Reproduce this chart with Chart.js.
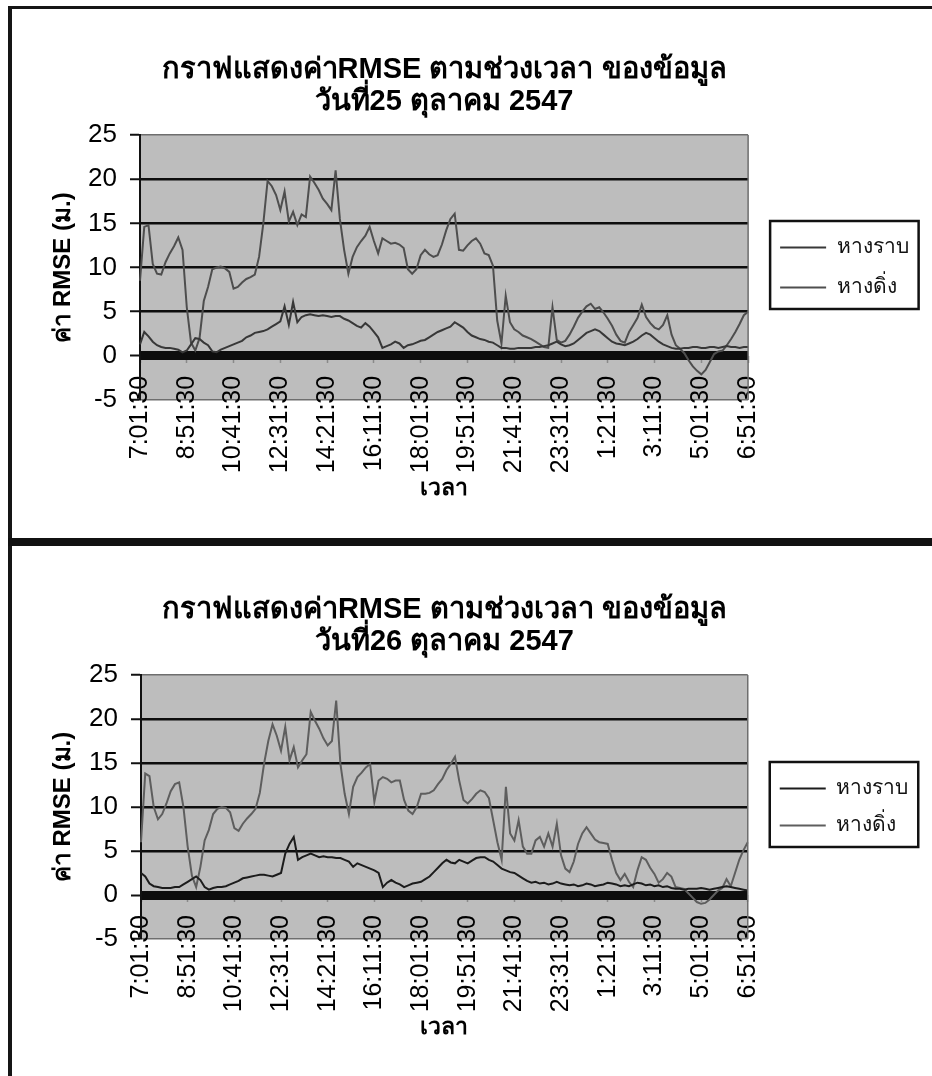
<!DOCTYPE html>
<html lang="th">
<head>
<meta charset="utf-8">
<title>กราฟแสดงค่า RMSE ตามช่วงเวลา</title>
<script src="https://cdn.jsdelivr.net/npm/chart.js@4.4.1/dist/chart.umd.min.js"></script>
<style>
  html, body { margin: 0; padding: 0; background: #ffffff; }
  #page { position: relative; width: 932px; height: 1076px; overflow: hidden; background: #ffffff; }
  .frame { position: absolute; box-sizing: border-box; border-style: solid; border-color: #151515; }
  #frameTop { left: 8px; top: 6px; width: 924px; height: 532px; border-width: 3px 0 0 4px; }
  #divider { position: absolute; left: 8px; top: 538px; width: 924px; height: 8px; background: #111111; }
  #frameBottom { left: 8px; top: 546px; width: 924px; height: 530px; border-width: 0 0 0 4px; }
  canvas { position: absolute; left: 0; }
  #chart25 { top: 0; }
  #chart26 { top: 546px; }
</style>
</head>
<body>
<div id="page">
  <div id="frameTop" class="frame"></div>
  <div id="divider"></div>
  <div id="frameBottom" class="frame"></div>
  <canvas id="chart25" width="932" height="537"></canvas>
  <canvas id="chart26" width="932" height="530"></canvas>
</div>
<script>
// ---- time axis: one sample every 10 minutes, from 7:01:30 to 6:51:30 of the next day ----
const START_MINUTE = 7 * 60 + 1;
const STEP_MINUTES = 10;
const SAMPLE_COUNT = 144;
const LABEL_EVERY = 11;          // a label every 110 minutes
const timeLabels = [];
for (let i = 0; i < SAMPLE_COUNT; i++) {
  const t = (START_MINUTE + i * STEP_MINUTES) % 1440;
  timeLabels.push(Math.floor(t / 60) + ':' + String(t % 60).padStart(2, '0') + ':30');
}

// ---- value axis ----
const yTickValues = [-5, 0, 5, 10, 15, 20, 25];

// ---- text ----
const seriesNames = ['หางราบ', 'หางดิ่ง'];
const titleLine = 'กราฟแสดงค่าRMSE ตามช่วงเวลา ของข้อมูล';
const dateLine25 = 'วันที่25 ตุลาคม 2547';
const dateLine26 = 'วันที่26 ตุลาคม 2547';
const yAxisTitle = 'ค่า RMSE (ม.)';
const xAxisTitle = 'เวลา';

// ---- RMSE (m), 25 October 2547 ----
const rmseFlat25 = [
  1.3, 2.7, 2.2, 1.6, 1.2, 1.0, 0.9, 0.9, 0.8, 0.7, 0.4, 0.6,
  1.3, 2.0, 1.9, 1.5, 1.2, 0.5, 0.4, 0.7, 0.9, 1.1, 1.3, 1.5,
  1.7, 2.1, 2.3, 2.6, 2.7, 2.8, 3.0, 3.3, 3.6, 3.9, 5.6, 3.5,
  6.1, 3.8, 4.4, 4.6, 4.7, 4.6, 4.5, 4.6, 4.5, 4.4, 4.5, 4.5,
  4.2, 4.0, 3.7, 3.4, 3.2, 3.7, 3.3, 2.7, 2.1, 0.9, 1.1, 1.3,
  1.6, 1.4, 0.9, 1.2, 1.3, 1.5, 1.7, 1.8, 2.1, 2.4, 2.7, 2.9,
  3.1, 3.3, 3.8, 3.5, 3.2, 2.7, 2.3, 2.1, 1.9, 1.8, 1.6, 1.5,
  1.2, 0.9, 0.9, 0.8, 0.8, 0.9, 0.9, 0.9, 0.9, 1.0, 1.0, 1.1,
  1.2, 1.4, 1.6, 1.3, 1.1, 1.2, 1.4, 1.8, 2.2, 2.6, 2.8, 3.0,
  2.8, 2.4, 2.0, 1.6, 1.4, 1.3, 1.2, 1.4, 1.6, 1.9, 2.3, 2.6,
  2.4, 2.0, 1.6, 1.3, 1.1, 0.9, 0.8, 0.8, 0.9, 0.9, 1.0, 1.0,
  0.9, 0.9, 1.0, 1.0, 0.9, 1.0, 1.1, 1.0, 1.0, 0.9, 1.0, 1.0
];
const rmseVert25 = [
  8.5, 14.6, 14.8, 10.4, 9.3, 9.2, 10.6, 11.6, 12.4, 13.4, 12.0, 5.5,
  1.5, 0.6, 2.0, 6.2, 7.8, 9.8, 10.0, 10.1, 9.9, 9.5, 7.6, 7.8,
  8.3, 8.7, 8.9, 9.2, 11.2, 15.0, 19.8, 19.2, 18.2, 16.5, 18.6, 15.2,
  16.3, 14.8, 16.0, 15.7, 20.3, 19.6, 18.8, 17.8, 17.2, 16.5, 21.0, 15.5,
  12.0, 9.3, 11.2, 12.3, 13.0, 13.6, 14.6, 13.0, 11.6, 13.3, 13.0, 12.7,
  12.8, 12.6, 12.2, 9.8, 9.3, 9.8, 11.4, 12.0, 11.5, 11.2, 11.4, 12.6,
  14.2, 15.5, 16.1, 12.0, 11.9, 12.5, 13.0, 13.3, 12.7, 11.6, 11.4, 10.2,
  4.0, 1.4, 6.8, 3.8, 3.0, 2.7, 2.3, 2.1, 1.9, 1.6, 1.3, 1.0,
  0.9, 5.5, 1.8, 1.5, 1.7, 2.4, 3.3, 4.3, 5.0, 5.6, 5.9, 5.3,
  5.5, 4.9, 4.2, 3.4, 2.4, 1.7, 1.5, 2.7, 3.5, 4.3, 5.8, 4.4,
  3.7, 3.2, 3.0, 3.5, 4.6, 2.4, 1.2, 0.8, 0.3, -0.5, -1.2, -1.7,
  -2.1, -1.6, -0.7, 0.2, 0.5, 0.6, 1.2, 1.9, 2.7, 3.6, 4.6, 5.0
];

// ---- RMSE (m), 26 October 2547 ----
const rmseFlat26 = [
  2.5, 2.1, 1.3, 1.0, 0.9, 0.8, 0.8, 0.8, 0.9, 0.9, 1.2, 1.5,
  1.8, 2.1, 1.7, 0.9, 0.6, 0.8, 0.9, 0.9, 1.0, 1.2, 1.4, 1.6,
  1.9, 2.0, 2.1, 2.2, 2.3, 2.3, 2.2, 2.1, 2.3, 2.5, 4.7, 5.8,
  6.6, 4.0, 4.3, 4.5, 4.7, 4.5, 4.3, 4.4, 4.3, 4.3, 4.2, 4.2,
  4.0, 3.8, 3.2, 3.6, 3.4, 3.2, 3.0, 2.8, 2.5, 0.9, 1.4, 1.7,
  1.4, 1.2, 0.9, 1.1, 1.3, 1.4, 1.5, 1.8, 2.1, 2.6, 3.1, 3.6,
  4.0, 3.7, 3.6, 4.0, 3.8, 3.6, 3.9, 4.2, 4.3, 4.3, 4.0, 3.8,
  3.4, 3.0, 2.8, 2.6, 2.5, 2.2, 1.9, 1.6, 1.4, 1.5, 1.3, 1.4,
  1.2, 1.3, 1.5, 1.3, 1.2, 1.1, 1.2, 1.0, 1.1, 1.3, 1.2, 1.0,
  1.1, 1.2, 1.4, 1.3, 1.2, 1.0, 1.1, 1.0, 1.2, 1.4, 1.3, 1.1,
  1.2, 1.0, 1.1, 0.9, 1.0, 0.8, 0.7, 0.7, 0.6, 0.7, 0.7, 0.7,
  0.8, 0.7, 0.6, 0.7, 0.8, 0.9, 1.0, 0.9, 0.8, 0.7, 0.6, 0.5
];
const rmseVert26 = [
  6.0, 13.8, 13.5, 10.0, 8.6, 9.2, 10.4, 11.8, 12.6, 12.8, 10.0, 5.5,
  2.2, 0.9, 3.2, 6.2, 7.4, 9.2, 9.8, 10.0, 9.9, 9.4, 7.6, 7.3,
  8.1, 8.7, 9.2, 9.8, 11.6, 14.9, 17.5, 19.4, 18.1, 16.4, 19.1, 15.3,
  16.8, 14.5, 15.3, 16.0, 20.8, 19.8, 18.9, 17.8, 17.0, 17.5, 22.1, 14.9,
  11.5, 9.2, 12.3, 13.4, 13.9, 14.5, 14.9, 10.6, 13.0, 13.4, 13.2, 12.8,
  13.0, 13.0, 10.8, 9.6, 9.2, 10.0, 11.5, 11.5, 11.6, 11.9, 12.6, 13.2,
  14.2, 14.9, 15.7, 13.0, 10.8, 10.4, 10.9, 11.5, 11.9, 11.7, 11.0, 8.5,
  6.0, 4.0, 12.3, 7.0, 6.2, 8.5, 5.5, 4.7, 4.7, 6.2, 6.6, 5.5,
  7.0, 5.5, 8.1, 4.5, 3.0, 2.6, 3.8, 5.8, 7.0, 7.7, 7.0, 6.3,
  6.0, 5.9, 5.8, 4.0, 2.5, 1.7, 2.4, 1.5, 0.9, 2.8, 4.3, 4.0,
  3.1, 2.4, 1.4, 1.8, 2.5, 2.1, 0.9, 0.8, 0.7, 0.2, -0.3, -0.8,
  -1.0, -0.9, -0.5, 0.0, 0.5, 0.8, 1.8, 1.0, 2.5, 4.0, 5.1, 6.0
];

// ---- styling ----
const THAI_FONT = "'Liberation Sans', 'Noto Sans', sans-serif";
const NUM_FONT = "'Liberation Sans Narrow', 'Liberation Sans', sans-serif";
const PLOT_BG = '#bdbdbd';
const LEGEND_FONT = { family: THAI_FONT, size: 21 };
const X_AXIS_HEIGHT = 200;       // box height of the category axis hanging below the 0 line
const ZERO_TO_X_TITLE = 133;     // from the 0 line down to the centre of "เวลา"

// gray plot area, right edge, and a framed legend
const plotDecor = {
  id: 'plotDecor',
  beforeDraw(chart) {
    const { ctx, chartArea: a } = chart;
    ctx.save();
    ctx.fillStyle = PLOT_BG;
    ctx.fillRect(a.left, a.top, a.right - a.left, a.bottom - a.top);
    ctx.restore();
  },
  afterDraw(chart) {
    const { ctx, chartArea: a } = chart;
    ctx.save();
    ctx.strokeStyle = '#6e6e6e';
    ctx.lineWidth = 1.5;
    ctx.beginPath();
    ctx.moveTo(a.right, a.top);
    ctx.lineTo(a.right, a.bottom);
    ctx.stroke();
    const boxes = chart.legend && chart.legend.legendHitBoxes;
    if (boxes && boxes.length) {
      const l = Math.min(...boxes.map(b => b.left));
      const r = Math.max(...boxes.map(b => b.left + b.width));
      const t = Math.min(...boxes.map(b => b.top));
      const btm = Math.max(...boxes.map(b => b.top + b.height));
      ctx.strokeStyle = '#111111';
      ctx.lineWidth = 2.5;
      ctx.strokeRect(l - 10, t - 16, r - l + 20, btm - t + 27);
    }
    ctx.restore();
  }
};

function buildChart(canvasId, dateLine, flat, vert, colors, g) {
  const canvas = document.getElementById(canvasId);
  const H = canvas.height;
  const boxW = 46;

  // two-line title; second line centred 33px above the plot
  const titleFont = { family: THAI_FONT, size: 29, weight: 'bold', lineHeight: 1.1 };
  const lh = titleFont.size * titleFont.lineHeight;
  const titleTop = g.top - 33 - 1.5 * lh;
  const titleGap = g.top - titleTop - 2 * lh;
  const xTitleFont = { family: THAI_FONT, size: 23, weight: 'bold' };

  const chart = new Chart(canvas, {
    type: 'line',
    data: {
      labels: timeLabels,
      datasets: [
        { label: seriesNames[0], data: flat, borderColor: colors[0], backgroundColor: colors[0],
          borderWidth: 2, pointRadius: 0, tension: 0, fill: false },
        { label: seriesNames[1], data: vert, borderColor: colors[1], backgroundColor: colors[1],
          borderWidth: 2, pointRadius: 0, tension: 0, fill: false }
      ]
    },
    options: {
      responsive: false,
      animation: false,
      devicePixelRatio: 1,
      events: [],
      layout: { padding: { top: titleTop, left: 0, right: 0, bottom: H - g.bottom } },
      plugins: {
        title: {
          display: true,
          fullSize: false,
          text: [titleLine, dateLine],
          color: '#000000',
          font: titleFont,
          padding: { top: 0, bottom: titleGap }
        },
        legend: {
          display: true,
          position: 'right',
          fullSize: false,
          align: 'center',
          labels: {
            usePointStyle: true,
            pointStyle: 'line',
            pointStyleWidth: boxW,
            boxWidth: boxW,
            color: '#111111',
            font: LEGEND_FONT,
            padding: g.legendPad
          }
        },
        tooltip: { enabled: false }
      },
      scales: {
        x: {
          type: 'category',
          position: { y: 0 },          // category axis crosses the value axis at 0
          offset: false,
          grid: {
            display: true,
            drawOnChartArea: false,
            drawTicks: true,
            tickLength: 7,
            tickWidth: 1.5,
            tickColor: ctx => ctx.index % LABEL_EVERY === 0 ? '#8a8a8a' : 'rgba(0,0,0,0)'
          },
          border: { display: false },
          ticks: {
            autoSkip: false,
            minRotation: 90,
            maxRotation: 90,
            padding: 13,
            color: '#000000',
            font: { family: NUM_FONT, size: 25 },
            callback(value, index) { return index % LABEL_EVERY === 0 ? this.getLabelForValue(value) : ''; }
          },
          title: {
            display: true,
            text: xAxisTitle,
            color: '#000000',
            font: xTitleFont,
            padding: { top: 0, bottom: X_AXIS_HEIGHT - ZERO_TO_X_TITLE - xTitleFont.size * 0.6 }
          },
          afterFit(scale) { scale.height = X_AXIS_HEIGHT; }
        },
        y: {
          type: 'linear',
          position: 'left',
          min: yTickValues[0],
          max: yTickValues[yTickValues.length - 1],
          ticks: {
            stepSize: yTickValues[1] - yTickValues[0],
            padding: 13,
            color: '#000000',
            font: { family: NUM_FONT, size: 26 }
          },
          grid: {
            drawOnChartArea: true,
            drawTicks: true,
            tickLength: 10,
            tickWidth: 2,
            tickColor: '#111111',
            color: ctx => (ctx.tick.value === yTickValues[0] || ctx.tick.value === yTickValues[yTickValues.length - 1]) ? '#6e6e6e' : '#0d0d0d',
            lineWidth: ctx => ctx.tick.value === 0 ? 9 : ((ctx.tick.value === yTickValues[0] || ctx.tick.value === yTickValues[yTickValues.length - 1]) ? 1.5 : 2.5)
          },
          border: { display: true, color: '#111111', width: 2 },
          title: {
            display: true,
            text: yAxisTitle,
            color: '#000000',
            font: { family: THAI_FONT, size: 24, weight: 'bold' },
            padding: { top: 49, bottom: 0 }
          },
          afterFit(scale) { scale.width = g.left; }
        },
        legendGap: {
          type: 'linear',
          position: 'right',
          display: true,
          grid: { display: false, drawTicks: false },
          border: { display: false },
          ticks: { display: false },
          afterFit(scale) { scale.width = g.gap; }
        }
      }
    },
    plugins: [plotDecor]
  });

  // settle the right padding so the plot ends at g.right
  const excess = chart.chartArea.right - g.right;
  if (Math.abs(excess) > 0.5) {
    chart.options.layout.padding.right = Math.max(0, excess);
    chart.update();
  }
  return chart;
}

buildChart('chart25', dateLine25, rmseFlat25, rmseVert25, ['#383838', '#4e4e4e'],
  { top: 135, bottom: 400, left: 140, right: 745, gap: 13, legendPad: 19 });
buildChart('chart26', dateLine26, rmseFlat26, rmseVert26, ['#1c1c1c', '#5e5e5e'],
  { top: 129, bottom: 393, left: 141, right: 746, gap: 16, legendPad: 16 });
</script>
</body>
</html>
